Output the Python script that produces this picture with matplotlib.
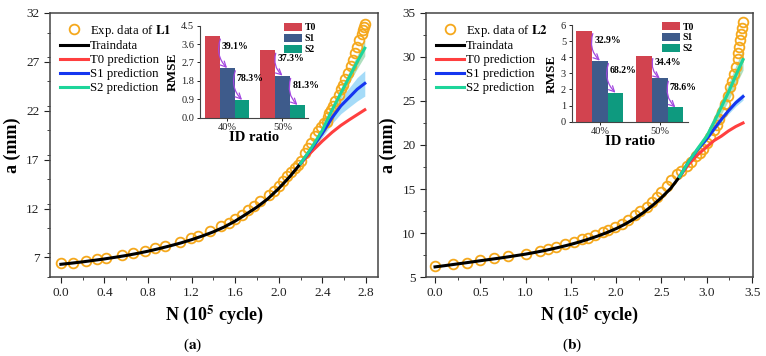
import numpy as np
import matplotlib
matplotlib.use('Agg')
import matplotlib.pyplot as plt
from matplotlib.ticker import MultipleLocator

plt.rcParams['font.family'] = ['Liberation Serif', 'DejaVu Serif']
plt.rcParams['mathtext.fontset'] = 'stix'

# ---- panel (a): specimen L1 ----
l1_exp_x = [0.00, 0.11, 0.23, 0.33, 0.41, 0.56, 0.66, 0.77, 0.86, 0.96, 1.09, 1.19, 1.26, 1.37,
            1.47, 1.54, 1.60, 1.66, 1.72, 1.77, 1.83, 1.91, 1.96, 2.00, 2.04, 2.08, 2.11, 2.15,
            2.18, 2.20, 2.24, 2.27, 2.30, 2.33, 2.36, 2.39, 2.42, 2.44, 2.45, 2.46, 2.48, 2.50,
            2.52, 2.55, 2.57, 2.59, 2.61, 2.64, 2.66, 2.68, 2.70, 2.72, 2.74, 2.76, 2.77, 2.78, 2.79]
l1_exp_y = [6.39, 6.46, 6.66, 6.80, 6.90, 7.24, 7.41, 7.68, 7.95, 8.22, 8.53, 8.94, 9.18, 9.69,
            10.2, 10.54, 10.95, 11.32, 11.83, 12.3, 12.8, 13.4, 13.8, 14.3, 14.8, 15.3, 15.7, 16.1,
            16.5, 16.9, 17.7, 18.2, 18.7, 19.4, 19.9, 20.3, 20.8, 20.9, 21.4, 21.8, 22.1, 22.5,
            23.0, 23.6, 24.2, 24.6, 25.2, 25.9, 26.6, 27.2, 27.9, 28.5, 29.2, 29.9, 30.3, 30.6, 30.9]
l1_train_x = [0.0, 0.1, 0.2, 0.3, 0.4, 0.5, 0.6, 0.7, 0.8, 0.9, 1.0, 1.1, 1.2, 1.3, 1.4, 1.5,
              1.6, 1.7, 1.8, 1.9, 2.0, 2.1, 2.2]
l1_train_y = [6.30, 6.42, 6.55, 6.70, 6.85, 7.02, 7.20, 7.41, 7.64, 7.90, 8.18, 8.48, 8.82, 9.20,
              9.62, 10.12, 10.72, 11.42, 12.15, 13.0, 14.05, 15.25, 16.6]
l1_pred_x = [2.20, 2.30, 2.40, 2.49, 2.57, 2.65, 2.72, 2.79]
l1_t0_y = [16.6, 17.8, 18.9, 19.8, 20.5, 21.1, 21.6, 22.1]
l1_s1_y = [16.6, 18.1, 19.7, 21.3, 22.5, 23.4, 24.2, 24.8]
l1_s1_err = [0.0, 0.2, 0.4, 0.6, 0.8, 1.0, 1.2, 1.3]
l1_s2_y = [16.6, 18.2, 20.0, 22.1, 23.8, 25.5, 27.0, 28.4]
l1_s2_err = [0.0, 0.2, 0.3, 0.4, 0.5, 0.6, 0.7, 0.8]

# ---- panel (b): specimen L2 ----
l2_exp_x = [0.00, 0.20, 0.35, 0.50, 0.65, 0.81, 1.00, 1.16, 1.25, 1.34, 1.44, 1.53, 1.62, 1.69,
            1.77, 1.85, 1.91, 1.99, 2.06, 2.13, 2.21, 2.26, 2.34, 2.39, 2.45, 2.50, 2.56, 2.61,
            2.67, 2.72, 2.78, 2.83, 2.88, 2.92, 2.96, 3.00, 3.04, 3.08, 3.11, 3.14, 3.17, 3.20,
            3.23, 3.26, 3.28, 3.30, 3.32, 3.34, 3.35, 3.36, 3.37, 3.38, 3.39, 3.40]
l2_exp_y = [6.2, 6.5, 6.57, 6.95, 7.13, 7.4, 7.6, 7.96, 8.2, 8.45, 8.7, 9.0, 9.27, 9.46,
            9.76, 10.1, 10.3, 10.7, 11.07, 11.5, 12.0, 12.5, 12.9, 13.5, 14.1, 14.7, 15.3, 16.0,
            16.7, 17.0, 17.6, 18.1, 18.7, 19.1, 19.5, 20.2, 20.9, 21.7, 22.3, 23.0, 23.8, 24.7,
            25.6, 26.6, 27.3, 28.1, 28.9, 29.8, 30.4, 31.1, 31.9, 32.6, 33.3, 34.0]
l2_train_x = [0.0, 0.1, 0.2, 0.3, 0.4, 0.5, 0.6, 0.7, 0.8, 0.9, 1.0, 1.1, 1.2, 1.3, 1.4, 1.5,
              1.6, 1.7, 1.8, 1.9, 2.0, 2.1, 2.2, 2.3, 2.4, 2.5, 2.6, 2.7]
l2_train_y = [6.15, 6.28, 6.42, 6.56, 6.70, 6.85, 6.99, 7.13, 7.28, 7.44, 7.60, 7.79, 7.99, 8.21,
              8.45, 8.71, 9.00, 9.32, 9.67, 10.06, 10.50, 11.02, 11.62, 12.32, 13.12, 14.02,
              15.05, 16.4]
l2_pred_x = [2.70, 2.80, 2.90, 3.00, 3.08, 3.16, 3.24, 3.32, 3.40]
l2_t0_y = [16.4, 17.8, 18.9, 19.8, 20.5, 21.0, 21.6, 22.1, 22.5]
l2_s1_y = [16.4, 18.1, 19.5, 20.7, 21.8, 22.9, 23.9, 24.8, 25.5]
l2_s1_err = [0.0, 0.1, 0.15, 0.2, 0.25, 0.3, 0.35, 0.4, 0.4]
l2_s2_y = [16.4, 18.1, 19.6, 21.0, 22.6, 24.3, 26.0, 27.9, 29.7]
l2_s2_err = [0.0, 0.2, 0.35, 0.5, 0.65, 0.8, 0.95, 1.1, 1.2]

# ---- inset RMSE bars ----
ratios = ['40%', '50%']
models = ['T0', 'S1', 'S2']
rmse_l1 = {'T0': [3.98, 3.29], 'S1': [2.43, 2.06], 'S2': [0.87, 0.62]}
rmse_l2 = {'T0': [5.65, 4.10], 'S1': [3.79, 2.69], 'S2': [1.80, 0.89]}
drop_l1 = [['39.1%', '78.3%'], ['37.3%', '81.3%']]
drop_l2 = [['32.9%', '68.2%'], ['34.4%', '78.6%']]

orange = '#F5A81C'
c_t0, c_s1, c_s2 = '#FF3F3F', '#1536F0', '#1ED59A'
bar_colors = {'T0': '#D2434F', 'S1': '#3E5B8B', 'S2': '#0E9A7F'}
purple = '#A348E0'
spine_c = '#444444'

fig = plt.figure(figsize=(7.66, 3.56), dpi=100)
ax1 = fig.add_axes([0.0653, 0.2219, 0.428, 0.7416])
ax2 = fig.add_axes([0.5561, 0.2219, 0.4269, 0.7416])


def main_panel(ax, ex, ey, tx, ty, px, t0, s1, s1e, s2, s2e, name):
    px = np.array(px)
    s1, s1e, s2, s2e = map(np.array, (s1, s1e, s2, s2e))
    ax.fill_between(px, s1 - s1e, s1 + s1e, color='#8FD3F7', alpha=0.8, lw=0, zorder=2)
    ax.fill_between(px, s2 - s2e, s2 + s2e, color='#9AD8AE', alpha=0.8, lw=0, zorder=2)
    ax.plot(ex, ey, 'o', ms=7, mfc='none', mec=orange, mew=1.3, zorder=3,
            label=r'Exp. data of $\mathbf{%s}$' % name)
    ax.plot(tx, ty, color='black', lw=2.2, zorder=4, label='Traindata')
    ax.plot(px, t0, color=c_t0, lw=2.2, zorder=4, label='T0 prediction')
    ax.plot(px, s1, color=c_s1, lw=2.2, zorder=4, label='S1 prediction')
    ax.plot(px, s2, color=c_s2, lw=2.2, zorder=4, label='S2 prediction')
    ax.legend(loc='upper left', bbox_to_anchor=(0.0, 1.0), frameon=False, fontsize=9.2,
              labelspacing=0.15, handlelength=2.25, handletextpad=0.15, borderaxespad=0.35)
    for s in ax.spines.values():
        s.set_color(spine_c)
        s.set_linewidth(1.1)
    ax.tick_params(which='both', direction='out', labelsize=9.5, colors='#222222',
                   top=False, right=False)
    ax.tick_params(which='major', length=4)
    ax.tick_params(which='minor', length=2.5)
    ax.set_xlabel(r'N (10$^{\mathbf{5}}$ cycle)', fontsize=13, fontweight='bold', labelpad=3)
    ax.set_ylabel('a (mm)', fontsize=13, fontweight='bold', labelpad=4)


main_panel(ax1, l1_exp_x, l1_exp_y, l1_train_x, l1_train_y, l1_pred_x, l1_t0_y,
           l1_s1_y, l1_s1_err, l1_s2_y, l1_s2_err, 'L1')
ax1.set_xlim(-0.1, 2.91)
ax1.set_ylim(5, 32)
ax1.set_xticks(np.arange(0, 2.81, 0.4))
ax1.xaxis.set_minor_locator(MultipleLocator(0.2))
ax1.set_yticks(np.arange(7, 33, 5))
ax1.yaxis.set_minor_locator(MultipleLocator(2.5))
ax1.set_xticklabels(['%.1f' % v for v in np.arange(0, 2.81, 0.4)])

main_panel(ax2, l2_exp_x, l2_exp_y, l2_train_x, l2_train_y, l2_pred_x, l2_t0_y,
           l2_s1_y, l2_s1_err, l2_s2_y, l2_s2_err, 'L2')
ax2.set_xlim(-0.1, 3.51)
ax2.set_ylim(5, 35)
ax2.set_xticks(np.arange(0, 3.51, 0.5))
ax2.xaxis.set_minor_locator(MultipleLocator(0.25))
ax2.set_yticks(np.arange(5, 36, 5))
ax2.yaxis.set_minor_locator(MultipleLocator(2.5))
ax2.set_xticklabels(['%.1f' % v for v in np.arange(0, 3.51, 0.5)])


def inset(rect, rmse, drops, ymax, ystep, w, xlim):
    ax = fig.add_axes(rect)
    x = np.arange(len(ratios))
    for k, m in enumerate(models):
        ax.bar(x + (k - 1) * w, rmse[m], width=w, color=bar_colors[m], label=m, zorder=2)
    for i in range(len(ratios)):
        vals = [rmse[m][i] for m in models]
        for j in range(2):
            x0 = x[i] + (j - 1) * w + 0.55 * w
            x1 = x[i] + j * w
            y0 = vals[j] - 0.03 * ymax
            y1 = vals[j + 1]
            ax.annotate('', xy=(x1, y1), xytext=(x0, y0),
                        arrowprops=dict(arrowstyle='->', color=purple, lw=0.9,
                                        connectionstyle='arc3,rad=0.3',
                                        shrinkA=0, shrinkB=0), zorder=4)
            ax.text(x[i] + (j - 0.5) * w + 0.04, vals[j] - 0.32 * (vals[j] - vals[j + 1]),
                    drops[i][j], fontsize=7, fontweight='bold', ha='left', va='center', zorder=5)
    ax.set_xlim(*xlim)
    ax.set_ylim(0, ymax)
    ax.set_yticks(np.arange(0, ymax + 1e-6, ystep))
    ax.set_xticks(x)
    ax.set_xticklabels(ratios)
    ax.patch.set_alpha(0)
    for s in ['top', 'right']:
        ax.spines[s].set_visible(False)
    for s in ['left', 'bottom']:
        ax.spines[s].set_color(spine_c)
        ax.spines[s].set_linewidth(0.8)
    ax.tick_params(labelsize=7.5, length=2.5, width=0.7, pad=1.5, colors='#222222')
    ax.set_xlabel('ID ratio', fontsize=10.5, fontweight='bold', labelpad=-1)
    ax.set_ylabel('RMSE', fontsize=9.5, fontweight='bold', labelpad=2)
    leg = ax.legend(loc='upper left', bbox_to_anchor=(0.78, 1.03), frameon=False,
                    fontsize=7, labelspacing=0.15, handlelength=1.8, handleheight=0.9,
                    handletextpad=0.3, borderpad=0, borderaxespad=0)
    for t in leg.get_texts():
        t.set_fontweight('bold')
    return ax


inset([0.261, 0.6694, 0.141, 0.2584], rmse_l1, drop_l1, 4.5, 0.9, 0.27, (-0.49, 1.46))
inset([0.7463, 0.6581, 0.1518, 0.2716], rmse_l2, drop_l2, 6, 1, 0.26, (-0.47, 1.47))

fig.text(193 / 766, 1 - 345 / 356, r'($\mathbf{a}$)', fontsize=11, ha='center', va='center')
fig.text(572 / 766, 1 - 345 / 356, r'($\mathbf{b}$)', fontsize=11, ha='center', va='center')

fig.savefig('out.png', dpi=100)
